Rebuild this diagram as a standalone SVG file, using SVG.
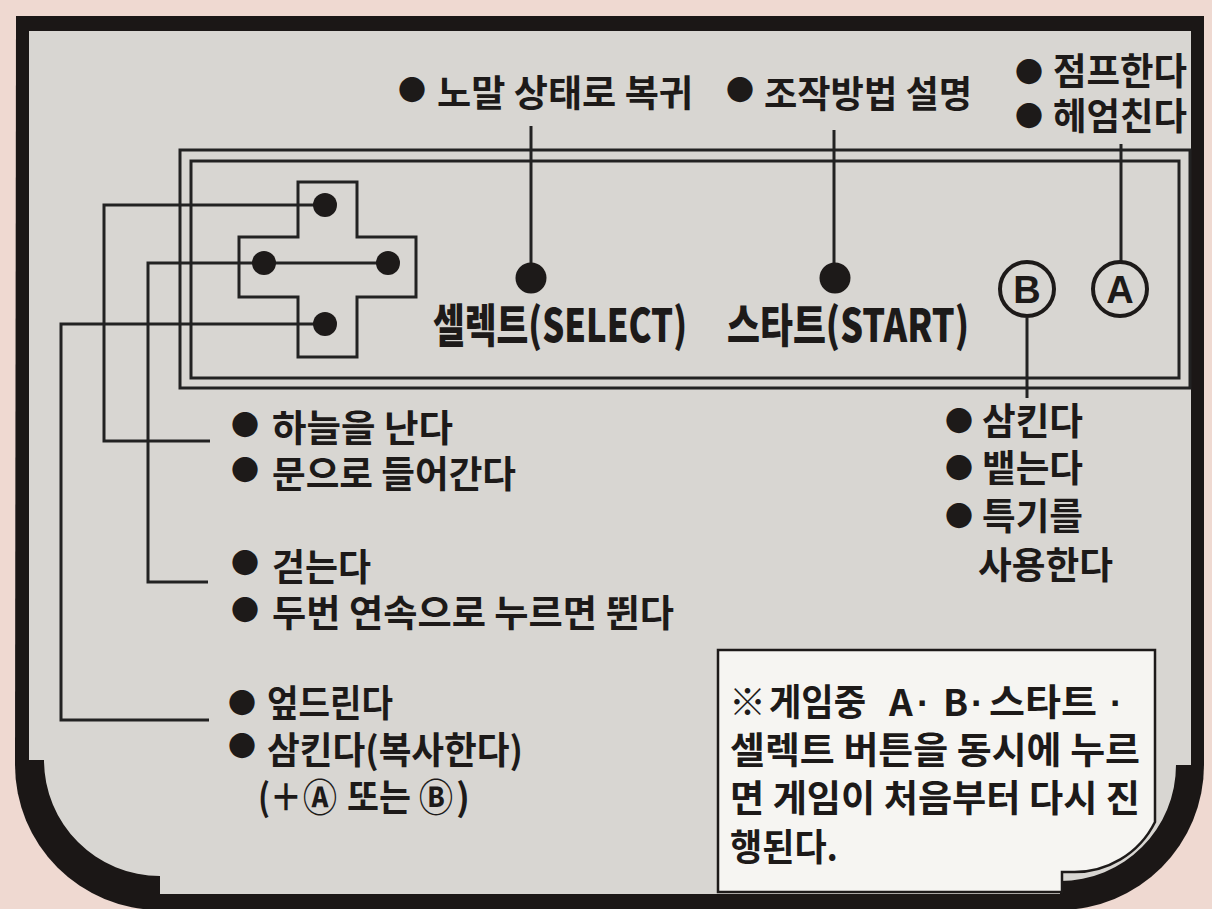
<svg xmlns="http://www.w3.org/2000/svg" width="1212" height="909" viewBox="0 0 1212 909">
<style>
.t{font-family:"Noto Sans CJK KR","Noto Sans",sans-serif;font-weight:700;font-size:37px;fill:#1d1a19}
.b{font-size:28px}
.c{font-size:38px}
.md{font-family:"Liberation Sans",Arial,sans-serif;font-weight:700}
.big{font-size:46px;font-weight:900}
.ln{stroke:#222;stroke-width:3;fill:none}
.dot{fill:#1d1a19}
.btn{fill:none;stroke:#1d1a19;stroke-width:4}
.bl{font-family:"Liberation Sans",Arial,sans-serif;font-weight:700;font-size:38px;fill:#1d1a19;text-anchor:middle}
</style>
<rect width="1212" height="909" fill="#efd9d1"/>
<g id="frame">
<path d="M16,16 H1204 V765 A145,145 0 0 1 1059,910 H160 A145,145 0 0 1 15,765 Z" fill="#1b1716"/>
<path d="M29,31 H1191 V765 H1176 A116,116 0 0 1 1060,881 V894 H160 V876 A116,116 0 0 1 44,760 H29 Z" fill="#d8d6d2"/>
</g>
<g id="controller">
<rect x="180" y="150" width="1010" height="238" class="ln"/>
<rect x="191" y="161" width="988" height="217" class="ln"/>
</g>
<g id="connectors" class="ln">
<path d="M325,205 H104 V441 H210"/>
<path d="M388,263 H148 V582 H208"/>
<path d="M325,324 H61 V720 H209"/>
<path d="M531,126 V263"/>
<path d="M834,130 V263"/>
<path d="M1121,144 V263"/>
<path d="M1027,318 V398"/>
</g>
<g id="dpad">
<path d="M298,182 H357 V237 H416 V297 H357 V357 H298 V297 H239 V237 H298 Z" class="ln"/>
<circle cx="325" cy="205" r="12" class="dot"/>
<circle cx="264" cy="263" r="12" class="dot"/>
<circle cx="388" cy="263" r="12" class="dot"/>
<circle cx="325" cy="324" r="12" class="dot"/>
</g>
<g id="select">
<circle cx="531" cy="278" r="15.5" class="dot"/>
<text class="t big" x="433" y="342" textLength="254" lengthAdjust="spacingAndGlyphs">셀렉트(SELECT)</text>
</g>
<g id="start">
<circle cx="835" cy="278" r="15.5" class="dot"/>
<text class="t big" x="727" y="342" textLength="242" lengthAdjust="spacingAndGlyphs">스타트(START)</text>
</g>
<g id="btnB">
<circle cx="1027" cy="289" r="27" class="btn"/>
<text class="bl" x="1027" y="303">B</text>
</g>
<g id="btnA">
<circle cx="1120" cy="289" r="27" class="btn"/>
<text class="bl" x="1120" y="303">A</text>
</g>
<g id="lbl-select">
<text class="t"><tspan class="b" x="398" y="101">●</tspan><tspan x="437" y="107" textLength="256" lengthAdjust="spacingAndGlyphs">노말 상태로 복귀</tspan></text>
</g>
<g id="lbl-start">
<text class="t"><tspan class="b" x="726" y="101">●</tspan><tspan x="764" y="108" textLength="208" lengthAdjust="spacingAndGlyphs">조작방법 설명</tspan></text>
</g>
<g id="lbl-a">
<text class="t"><tspan class="b" x="1015" y="83">●</tspan><tspan x="1053" y="85" textLength="134" lengthAdjust="spacingAndGlyphs">점프한다</tspan></text>
<text class="t"><tspan class="b" x="1015" y="127">●</tspan><tspan x="1053" y="130" textLength="134" lengthAdjust="spacingAndGlyphs">헤엄친다</tspan></text>
</g>
<g id="lbl-up">
<text class="t"><tspan class="b" x="231" y="436">●</tspan><tspan x="272" y="442" textLength="181" lengthAdjust="spacingAndGlyphs">하늘을 난다</tspan></text>
<text class="t"><tspan class="b" x="231" y="481">●</tspan><tspan x="272" y="488" textLength="244" lengthAdjust="spacingAndGlyphs">문으로 들어간다</tspan></text>
</g>
<g id="lbl-side">
<text class="t"><tspan class="b" x="231" y="574">●</tspan><tspan x="272" y="581" textLength="99" lengthAdjust="spacingAndGlyphs">걷는다</tspan></text>
<text class="t"><tspan class="b" x="231" y="621">●</tspan><tspan x="272" y="627" textLength="402" lengthAdjust="spacingAndGlyphs">두번 연속으로 누르면 뛴다</tspan></text>
</g>
<g id="lbl-down">
<text class="t"><tspan class="b" x="228" y="714">●</tspan><tspan x="267" y="717" textLength="126" lengthAdjust="spacingAndGlyphs">엎드린다</tspan></text>
<text class="t"><tspan class="b" x="228" y="757">●</tspan><tspan x="267" y="764" textLength="256" lengthAdjust="spacingAndGlyphs">삼킨다(복사한다)</tspan></text>
<text class="t" y="811"><tspan x="258" textLength="44" lengthAdjust="spacingAndGlyphs">(＋</tspan><tspan class="c" x="303" textLength="34" lengthAdjust="spacingAndGlyphs">Ⓐ</tspan><tspan x="347" textLength="64" lengthAdjust="spacingAndGlyphs">또는</tspan><tspan class="c" x="419" textLength="34" lengthAdjust="spacingAndGlyphs">Ⓑ</tspan><tspan x="456">)</tspan></text>
</g>
<g id="lbl-b">
<text class="t"><tspan class="b" x="945" y="432">●</tspan><tspan x="982" y="435" textLength="101" lengthAdjust="spacingAndGlyphs">삼킨다</tspan></text>
<text class="t"><tspan class="b" x="945" y="479">●</tspan><tspan x="982" y="482" textLength="101" lengthAdjust="spacingAndGlyphs">뱉는다</tspan></text>
<text class="t"><tspan class="b" x="945" y="527">●</tspan><tspan x="982" y="530" textLength="101" lengthAdjust="spacingAndGlyphs">특기를</tspan></text>
<text class="t" x="978" y="579" textLength="135" lengthAdjust="spacingAndGlyphs">사용한다</text>
</g>
<g id="note">
<path d="M718,650 H1155 V822 A90,90 0 0 1 1071,872 H1062 V892 H718 Z" fill="#f6f5f2" stroke="#1d1a19" stroke-width="2.5"/>
<text class="t" y="716"><tspan x="729">※</tspan><tspan x="769" textLength="97" lengthAdjust="spacingAndGlyphs">게임중</tspan><tspan x="889">A</tspan><tspan class="md" x="917">·</tspan><tspan x="943">B</tspan><tspan class="md" x="971">·</tspan><tspan x="989" textLength="108" lengthAdjust="spacingAndGlyphs">스타트</tspan><tspan class="md" x="1110">·</tspan></text>
<text class="t" x="730" y="764" textLength="410" lengthAdjust="spacingAndGlyphs">셀렉트 버튼을 동시에 누르</text>
<text class="t" x="730" y="812" textLength="410" lengthAdjust="spacingAndGlyphs">면 게임이 처음부터 다시 진</text>
<text class="t" x="730" y="861" textLength="108" lengthAdjust="spacingAndGlyphs">행된다.</text>
</g>
</svg>
